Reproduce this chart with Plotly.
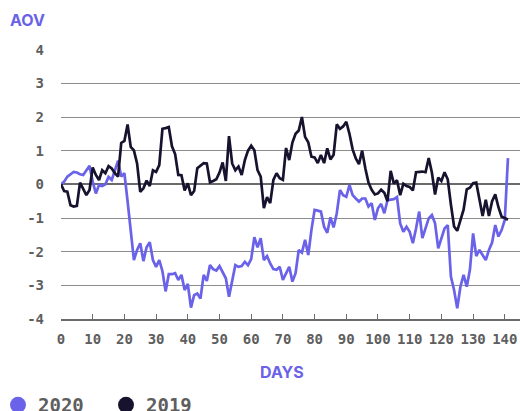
import plotly.graph_objects as go

days = list(range(0, 142))

aov_2020 = [
    0.0, 0.08, 0.23, 0.30, 0.37, 0.35, 0.30, 0.28, 0.42, 0.55,
    0.08, -0.27, -0.02, -0.05, 0.00, 0.22, 0.13, 0.42, 0.70, 0.23,
    0.33, -0.50, -1.40, -2.25, -1.95, -1.75, -2.28, -1.87, -1.72, -2.25,
    -2.45, -2.25, -2.58, -3.18, -2.67, -2.67, -2.64, -2.84, -2.69, -3.14,
    -2.96, -3.66, -3.29, -3.24, -3.39, -2.69, -2.87, -2.40, -2.52, -2.56,
    -2.43, -2.62, -2.79, -3.34, -2.84, -2.40, -2.45, -2.43, -2.30, -2.40,
    -2.22, -1.57, -1.87, -1.60, -2.25, -2.13, -2.35, -2.52, -2.54, -2.45,
    -2.84, -2.64, -2.45, -2.89, -2.64, -1.95, -2.03, -1.65, -2.10, -1.36,
    -0.76, -0.78, -0.81, -1.26, -1.44, -0.98, -1.28, -0.86, -0.17, -0.32,
    -0.37, -0.02, -0.32, -0.42, -0.51, -0.42, -0.42, -0.66, -0.56, -1.06,
    -0.71, -0.58, -0.86, -0.47, -0.46, -0.44, -0.38, -1.16, -1.41, -1.26,
    -1.41, -1.75, -1.31, -0.81, -1.60, -1.31, -1.01, -0.91, -1.16, -1.90,
    -1.60, -1.31, -1.21, -2.74, -3.14, -3.68, -3.04, -2.69, -3.04, -2.54,
    -1.46, -2.13, -1.95, -2.10, -2.25, -1.95, -1.73, -1.21, -1.55, -1.36,
    -1.06, 0.78,
]

aov_2019 = [
    0.0, -0.20, -0.22, -0.62, -0.66, -0.64, 0.05, -0.12, -0.32, -0.17,
    0.50, 0.28, 0.13, 0.42, 0.33, 0.54, 0.47, 0.33, 0.23, 1.23,
    1.29, 1.78, 1.11, 1.01, 0.62, -0.22, -0.12, 0.11, -0.05, 0.42,
    0.37, 0.57, 1.65, 1.67, 1.70, 1.13, 0.90, 0.28, 0.27, -0.18,
    0.03, -0.32, -0.20, 0.48, 0.56, 0.63, 0.62, 0.06, 0.10, 0.15,
    0.35, 0.65, 0.10, 1.43, 0.62, 0.42, 0.53, 0.28, 0.72, 1.00,
    1.15, 1.01, 0.42, 0.23, -0.71, -0.38, -0.56, 0.13, 0.33, 0.18,
    0.13, 1.08, 0.72, 1.24, 1.50, 1.60, 2.00, 1.41, 1.25, 0.82,
    0.80, 0.63, 0.87, 0.63, 1.07, 0.74, 0.88, 1.78, 1.65, 1.72,
    1.86, 1.50, 1.04, 0.77, 0.60, 1.00, 0.48, 0.05, -0.16, -0.30,
    -0.27, -0.16, -0.25, -0.50, 0.40, 0.02, 0.12, -0.32, 0.02, -0.05,
    -0.08, -0.18, 0.36, 0.37, 0.38, 0.36, 0.78, 0.35, -0.30, 0.20,
    0.10, 0.36, 0.15, -0.60, -1.25, -1.38, -1.05, -0.75, -0.15, -0.10,
    0.03, 0.05, -0.44, -0.94, -0.46, -0.94, -0.50, -0.30, -0.68, -0.96,
    -1.00, -1.05,
]

x_ticks = list(range(0, 141, 10))
y_ticks = [-4, -3, -2, -1, 0, 1, 2, 3, 4]

series_names = ["2020", "2019"]
series_colors = ["#6A62E8", "#17132F"]

W, H = 520, 411
ML, MR, MT, MB = 61, 0, 49, 92
PW = W - ML - MR
PH = H - MT - MB
X_MAX = 144.8

def px_x(p):
    return (p - ML) / PW

def px_y(p):
    return (H - MB - p) / PH

mono = "DejaVu Sans Mono"
grey = "#5e5e5e"

fig = go.Figure()
for name, vals, col in zip(series_names, [aov_2020, aov_2019], series_colors):
    fig.add_trace(go.Scatter(
        x=days, y=vals, mode="lines", name=name,
        line=dict(color=col, width=2.7), showlegend=False,
        hoverinfo="skip",
    ))

# legend entries (circle markers)
for i, (name, col) in enumerate(zip(series_names, series_colors)):
    fig.add_trace(go.Scatter(
        x=[None], y=[None], mode="markers", name=name,
        marker=dict(color=col, size=16, symbol="circle"),
        showlegend=True, legend="legend" if i == 0 else "legend2",
    ))

leg_common = dict(
    orientation="h", yanchor="middle", xanchor="left",
    bgcolor="rgba(0,0,0,0)", borderwidth=0,
    font=dict(family=mono, size=19, color=grey, weight="bold"),
    itemsizing="trace",
)

fig.update_layout(
    width=W, height=H,
    margin=dict(l=ML, r=MR, t=MT, b=MB, pad=0, autoexpand=False),
    paper_bgcolor="white", plot_bgcolor="white",
    legend=dict(x=px_x(-2), y=px_y(405), **leg_common),
    legend2=dict(x=px_x(106), y=px_y(405), **leg_common),
    xaxis=dict(
        range=[0, X_MAX],
        tickvals=x_ticks, ticktext=[str(v) for v in x_ticks],
        showgrid=False, zeroline=False,
        showline=True, linecolor="#6b6b6b", linewidth=1.5,
        ticks="inside", ticklen=5, tickwidth=1.2, tickcolor="#6b6b6b",
        tickfont=dict(family=mono, size=14, color=grey, weight="bold"),
        ticklabelstandoff=6,
    ),
    yaxis=dict(
        range=[-4, 4.02],
        tickvals=y_ticks, ticktext=[str(v) for v in y_ticks],
        showgrid=True, gridcolor="#8c8c8c", gridwidth=1.2,
        zeroline=True, zerolinecolor="#6b6b6b", zerolinewidth=1.5,
        showline=False, ticks="",
        tickfont=dict(family=mono, size=14, color=grey, weight="bold"),
        ticklabelstandoff=16,
    ),
    annotations=[
        dict(text="AOV", xref="paper", yref="paper",
             x=px_x(8), y=px_y(20), xanchor="left", yanchor="middle",
             showarrow=False,
             font=dict(family="Inter", size=16, color="#6A62E8", weight="bold")),
        dict(text="DAYS", xref="paper", yref="paper",
             x=px_x(282), y=px_y(372), xanchor="center", yanchor="middle",
             showarrow=False,
             font=dict(family="Inter", size=16, color="#6A62E8", weight="bold")),
    ],
)

fig.write_html(
    "out.html",
    config={"displayModeBar": False},
    post_script="document.body.style.margin='0px';document.body.style.padding='0px';",
)
